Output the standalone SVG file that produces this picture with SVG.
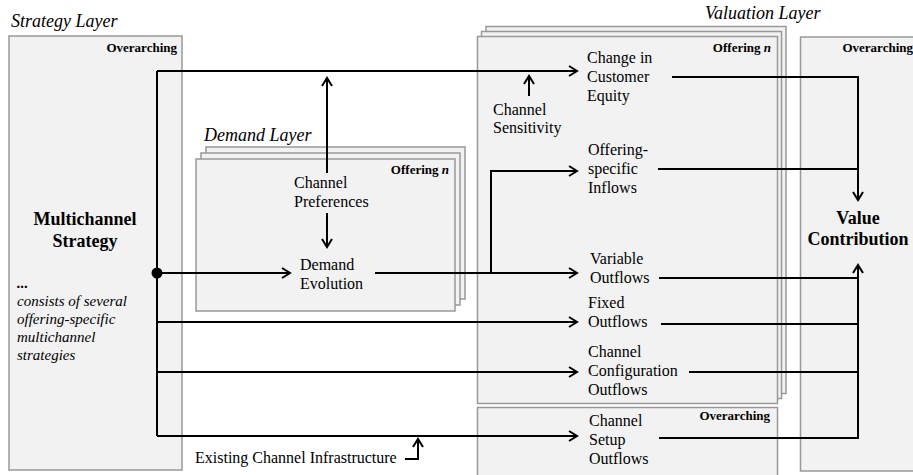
<svg xmlns="http://www.w3.org/2000/svg" width="913" height="475" viewBox="0 0 913 475">
<style>
text{font-family:"Liberation Serif","Times New Roman",serif;fill:#000}
.box{fill:#f2f2f2;stroke:#999;stroke-width:1.5}
.t{font-size:16px}
.layer{font-size:18px;font-style:italic}
.title{font-size:18px;font-weight:bold}
.tag{font-size:13px;font-weight:bold}
.note{font-size:15px;font-style:italic}
.c{fill:none;stroke:#000;stroke-width:2}
.a{marker-end:url(#arr)}
</style>
<defs>
<marker id="arr" markerUnits="userSpaceOnUse" markerWidth="12" markerHeight="12" refX="9" refY="6" orient="auto">
<path d="M1,1 L9,6 L1,11" fill="none" stroke="#000" stroke-width="2"/>
</marker>
</defs>

<g id="strategy-layer">
<text class="layer" x="11" y="27">Strategy Layer</text>
<rect class="box" x="9" y="36" width="173" height="434"/>
<text class="tag" x="177" y="52" text-anchor="end">Overarching</text>
<text class="title" x="85" y="225" text-anchor="middle">Multichannel</text>
<text class="title" x="85" y="247" text-anchor="middle">Strategy</text>
<text class="note" x="17" y="288" font-weight="bold" font-style="normal">...</text>
<text class="note" x="17" y="306">consists of several</text>
<text class="note" x="17" y="324">offering-specific</text>
<text class="note" x="17" y="342">multichannel</text>
<text class="note" x="17" y="360">strategies</text>
</g>

<g id="demand-layer">
<text class="layer" x="204" y="141">Demand Layer</text>
<rect class="box" x="206" y="147" width="259" height="152"/>
<rect class="box" x="201" y="153" width="259" height="152"/>
<rect class="box" x="196" y="159" width="259" height="152"/>
<text class="tag" x="449" y="174" text-anchor="end">Offering <tspan font-style="italic">n</tspan></text>
</g>

<g id="channel-preferences">
<text class="t" x="294" y="188">Channel</text>
<text class="t" x="294" y="207">Preferences</text>
</g>

<g id="demand-evolution">
<text class="t" x="300" y="270">Demand</text>
<text class="t" x="300" y="289">Evolution</text>
</g>

<g id="valuation-layer">
<text class="layer" x="705" y="19">Valuation Layer</text>
<rect class="box" x="486" y="26.5" width="300" height="367"/>
<rect class="box" x="481.5" y="31.5" width="300" height="367"/>
<rect class="box" x="477.5" y="36.5" width="300" height="367"/>
<text class="tag" x="771" y="52" text-anchor="end">Offering <tspan font-style="italic">n</tspan></text>
</g>

<g id="setup-box">
<rect class="box" x="477.5" y="407.5" width="300" height="70"/>
<text class="tag" x="770" y="420" text-anchor="end">Overarching</text>
</g>

<g id="value-box">
<rect class="box" x="800.5" y="37" width="125" height="434"/>
<text class="tag" x="913" y="52" text-anchor="end">Overarching</text>
<text class="title" x="858" y="224" text-anchor="middle">Value</text>
<text class="title" x="858" y="245" text-anchor="middle">Contribution</text>
</g>

<g id="channel-sensitivity">
<text class="t" x="493" y="115">Channel</text>
<text class="t" x="493" y="133">Sensitivity</text>
</g>

<g id="customer-equity">
<text class="t" x="587" y="63">Change in</text>
<text class="t" x="587" y="82">Customer</text>
<text class="t" x="587" y="101">Equity</text>
</g>

<g id="inflows">
<text class="t" x="588" y="155">Offering-</text>
<text class="t" x="588" y="174">specific</text>
<text class="t" x="588" y="193">Inflows</text>
</g>

<g id="variable-outflows">
<text class="t" x="590" y="264">Variable</text>
<text class="t" x="590" y="283">Outflows</text>
</g>

<g id="fixed-outflows">
<text class="t" x="588" y="308">Fixed</text>
<text class="t" x="588" y="327">Outflows</text>
</g>

<g id="config-outflows">
<text class="t" x="588" y="357">Channel</text>
<text class="t" x="588" y="376">Configuration</text>
<text class="t" x="588" y="395">Outflows</text>
</g>

<g id="setup-outflows">
<text class="t" x="589" y="426">Channel</text>
<text class="t" x="589" y="445">Setup</text>
<text class="t" x="589" y="464">Outflows</text>
</g>

<g id="infrastructure">
<text class="t" x="195" y="463">Existing Channel Infrastructure</text>
</g>

<g id="connectors">
<path class="c" d="M157,71 V436"/>
<path class="c a" d="M157,71 H577"/>
<path class="c a" d="M157,273 H290"/>
<path class="c a" d="M157,322 H577"/>
<path class="c a" d="M157,372 H577"/>
<path class="c a" d="M157,436 H577"/>
<circle cx="157" cy="273" r="5.5" fill="#000"/>
<path class="c a" d="M327,173 V78"/>
<path class="c a" d="M327,213 V247"/>
<path class="c a" d="M375,273 H577"/>
<path class="c a" d="M491,273 V171 H577"/>
<path class="c a" d="M529,96 V76"/>
<path class="c a" d="M405,459 H418 V439"/>
<path class="c a" d="M672,77 H858 V200"/>
<path class="c" d="M658,169 H858"/>
<path class="c" d="M659,278 H858"/>
<path class="c" d="M661,324 H858"/>
<path class="c" d="M689,372 H858"/>
<path class="c a" d="M659,438 H858 V265"/>
</g>
</svg>
